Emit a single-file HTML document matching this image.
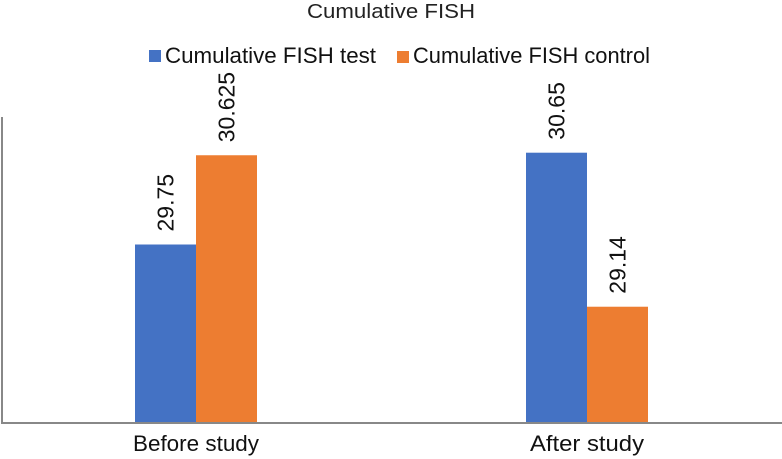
<!DOCTYPE html>
<html><head><meta charset="utf-8"><style>
body{margin:0;background:#fff;}
svg{display:block;font-family:"Liberation Sans",Arial,sans-serif;}
</style></head><body>
<svg id="chart" width="782" height="459">
<text x="391" y="18" text-anchor="middle" font-size="20" textLength="168" lengthAdjust="spacingAndGlyphs" fill="#222">Cumulative FISH</text>
<g>
<rect x="149" y="50" width="12" height="12" fill="#4472c4"/>
<text x="165" y="63" font-size="22" textLength="211" lengthAdjust="spacingAndGlyphs" fill="#111">Cumulative FISH test</text>
<rect x="397" y="51" width="12" height="12" fill="#ed7d31"/>
<text x="413" y="63" font-size="22" textLength="237" lengthAdjust="spacingAndGlyphs" fill="#111">Cumulative FISH control</text>
</g>
<line x1="2" y1="117" x2="2" y2="423" stroke="#888" stroke-width="2"/>
<g id="bars"></g>
<line x1="1" y1="423" x2="782" y2="423" stroke="#888" stroke-width="2"/>
</svg>
<script>
const categories = ["Before study", "After study"];
const testValues = [29.75, 30.65];
const controlValues = [30.625, 29.14];
const valueLabelsTest = ["29.75", "30.65"];
const valueLabelsControl = ["30.625", "29.14"];
const yMin = 28, yMax = 31;

const top_ = 117, bottom = 423;
const y = v => bottom - (v - yMin) / (yMax - yMin) * (bottom - top_);
const catCenter = i => 196 + i * 391;
const catLabelWidth = [126, 114];
const barW = 61;
const ns = "http://www.w3.org/2000/svg";
const g = document.getElementById("bars");
const svg = document.getElementById("chart");

function bar(x, v, color, name, label) {
  const r = document.createElementNS(ns, "rect");
  r.setAttribute("x", x); r.setAttribute("width", barW);
  r.setAttribute("y", y(v)); r.setAttribute("height", bottom - y(v));
  r.setAttribute("fill", color);
  
  
  g.appendChild(r);
  const t = document.createElementNS(ns, "text");
  const cx = x + barW / 2 + 8, cy = y(v) - 13;
  t.setAttribute("x", cx); t.setAttribute("y", cy);
  t.setAttribute("transform", `rotate(-90 ${cx} ${cy})`);
  t.setAttribute("font-size", "23"); t.setAttribute("fill", "#111");
  t.textContent = label;
  
  
  g.appendChild(t);
}
categories.forEach((c, i) => {
  const cx = catCenter(i);
  bar(cx - barW, testValues[i], "#4472c4", "bar-test-" + i, valueLabelsTest[i]);
  bar(cx, controlValues[i], "#ed7d31", "bar-control-" + i, valueLabelsControl[i]);
  const t = document.createElementNS(ns, "text");
  t.setAttribute("x", cx); t.setAttribute("y", 451);
  t.setAttribute("text-anchor", "middle");
  t.setAttribute("font-size", "22"); t.setAttribute("fill", "#111");
  t.setAttribute("textLength", catLabelWidth[i]);
  t.setAttribute("lengthAdjust", "spacingAndGlyphs");
  t.textContent = c;
  
  
  svg.appendChild(t);
});
</script>
</body></html>
